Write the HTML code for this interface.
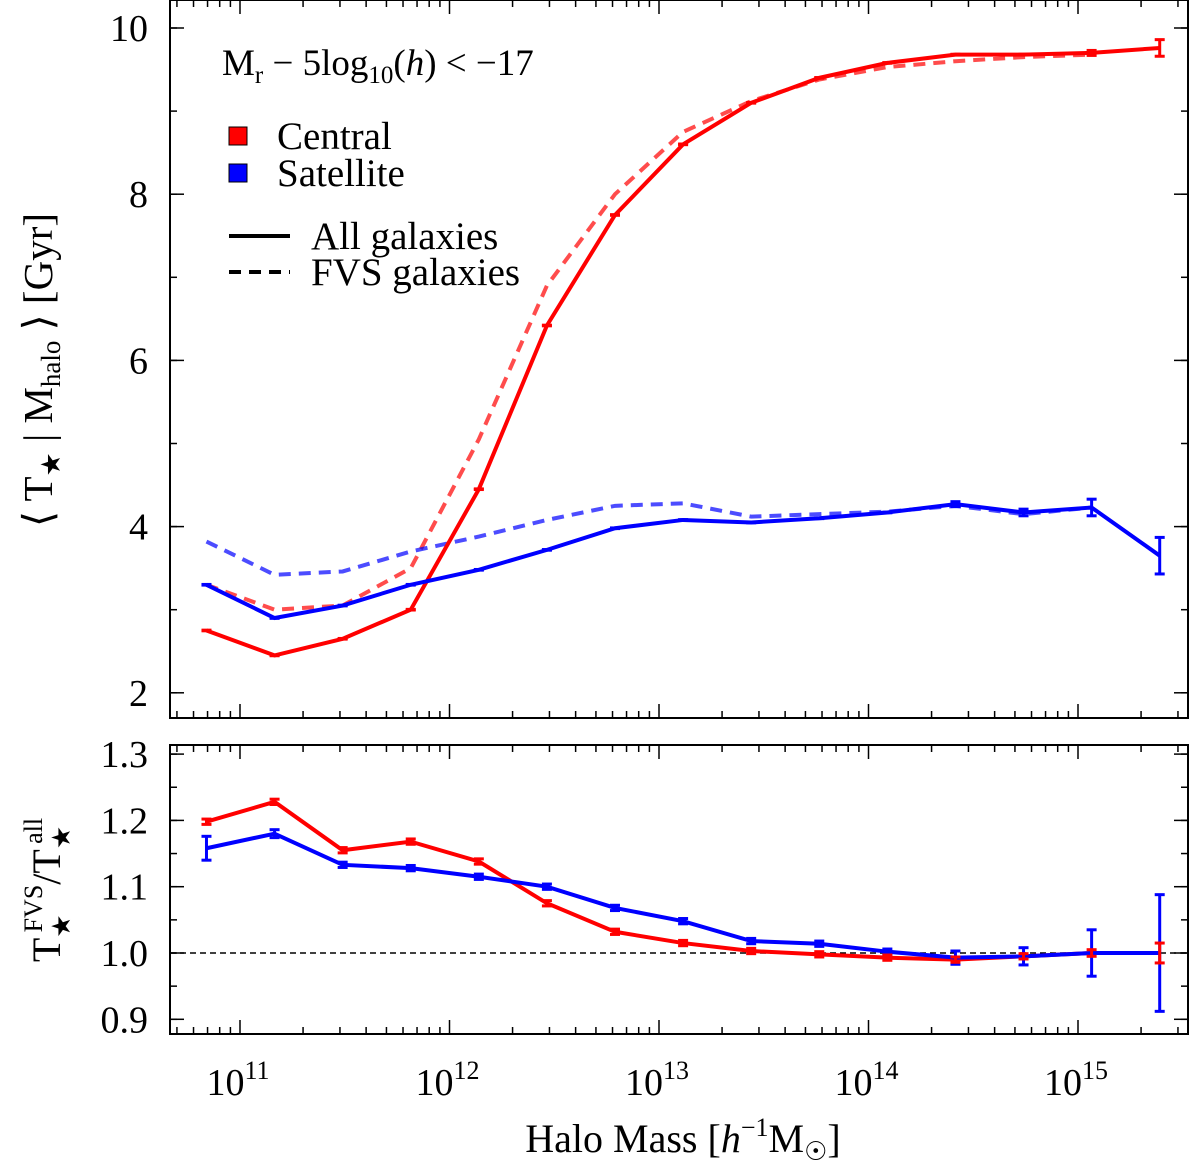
<!DOCTYPE html>
<html><head><meta charset="utf-8"><style>
body{margin:0;background:#fff}
svg{font-family:"Liberation Serif",serif}
</style></head><body>
<svg id="c" width="1200" height="1162" xmlns="http://www.w3.org/2000/svg"></svg>
<script>
const massLog=[10.84,11.165,11.49,11.815,12.14,12.465,12.79,13.115,13.44,13.765,14.09,14.415,14.74,15.065,15.39];
const cenAll=[2.75,2.45,2.65,3.0,4.45,6.42,7.75,8.6,9.1,9.4,9.58,9.68,9.68,9.7,9.76];
const cenFVS=[3.3,3.0,3.05,3.5,5.05,6.9,8.0,8.75,9.12,9.38,9.53,9.6,9.65,9.68];
const satAll=[3.3,2.9,3.05,3.3,3.48,3.72,3.98,4.08,4.05,4.1,4.17,4.27,4.17,4.23,3.65];
const satFVS=[3.82,3.42,3.46,3.7,3.88,4.08,4.25,4.28,4.12,4.15,4.18,4.25,4.15,4.23];
const ratioCen=[1.198,1.228,1.155,1.168,1.138,1.075,1.032,1.015,1.003,0.998,0.993,0.99,0.995,1.0,1.0];
const ratioSat=[1.158,1.18,1.133,1.128,1.115,1.1,1.068,1.048,1.018,1.014,1.002,0.993,0.995,1.0,1.0];
const errSatAll=[0,0,0,0,0,0,0,0,0,0,0,0.03,0.04,0.1,0.22];
const errCenAll=[0,0,0,0,0,0,0,0,0,0,0,0,0,0.03,0.1];
const errRatioSat=[0.018,0.006,0,0,0,0,0,0,0,0,0,0.01,0.013,0.035,0.088];
const errRatioCen=[0,0,0,0,0,0,0,0,0,0,0,0,0,0.005,0.015];
const topTicks=[2,4,6,8,10];
const botTicks=[0.9,1.0,1.1,1.2,1.3];
const xDecades=[11,12,13,14,15];

const svg=document.getElementById('c');const NS='http://www.w3.org/2000/svg';
function el(t,a,p){const e=document.createElementNS(NS,t);for(const k in a)e.setAttribute(k,a[k]);(p||svg).appendChild(e);return e;}
const X=v=>240+209.5*(v-11);
const YT=v=>28+(10-v)*83.1;
const YB=v=>953-(v-1.0)*663;
const L=170,R=1188,T1=0,B1=718,T2=745,B2=1034;

function frame(t,b,name){const r=el('rect',{x:L,y:t,width:R-L,height:b-t,fill:'none',stroke:'#000','stroke-width':2});

for(let d=10;d<=15;d++){for(let m=1;m<10;m++){const x=X(d+Math.log10(m));if(x<L||x>R)continue;const len=m===1?14:7;
el('line',{x1:x,x2:x,y1:b,y2:b-len,stroke:'#000','stroke-width':1.5});el('line',{x1:x,x2:x,y1:t,y2:t+len,stroke:'#000','stroke-width':1.5});}}}
frame(T1,B1,'top-panel-frame');frame(T2,B2,'bottom-panel-frame');

function yTicks(ticks,Y,minorStep,lo,hi,fmt,name){for(let v=lo;v<=hi+1e-9;v+=minorStep){const y=Y(v);el('line',{x1:L,x2:L+7,y1:y,y2:y,stroke:'#000','stroke-width':1.5});el('line',{x1:R,x2:R-7,y1:y,y2:y,stroke:'#000','stroke-width':1.5});}
ticks.forEach(v=>{const y=Y(v);el('line',{x1:L,x2:L+14,y1:y,y2:y,stroke:'#000','stroke-width':1.5});el('line',{x1:R,x2:R-14,y1:y,y2:y,stroke:'#000','stroke-width':1.5});
const t=el('text',{x:L-22,y:y+13,'text-anchor':'end','font-size':38});t.textContent=fmt(v);});}
yTicks(topTicks,YT,1,2,10,v=>String(v),'y-tick-label-top');
yTicks(botTicks,YB,0.05,0.9,1.3,v=>v.toFixed(1),'y-tick-label-bottom');

xDecades.forEach(d=>{const t=el('text',{x:X(d)-2,y:1095,'text-anchor':'middle','font-size':38});t.innerHTML='10<tspan font-size="26" dy="-16">'+d+'</tspan>';
});

const ref=el('line',{x1:L,x2:R,y1:YB(1),y2:YB(1),stroke:'#000','stroke-width':1.5,'stroke-dasharray':'6,4'});


function series(vals,Y,color,dash,op,name){const pts=vals.map((v,i)=>X(massLog[i])+','+Y(v)).join(' ');
const p=el('polyline',{points:pts,fill:'none',stroke:color,'stroke-width':4,'stroke-opacity':op,'stroke-dasharray':dash?'12,8':'none'});
}
function errs(vals,er,Y,color,name){vals.forEach((v,i)=>{const e=er[i]||0.004;const x=X(massLog[i]);
const g=el('g',{});
el('line',{x1:x,x2:x,y1:Y(v-e),y2:Y(v+e),stroke:color,'stroke-width':3},g);
el('line',{x1:x-5,x2:x+5,y1:Y(v-e),y2:Y(v-e),stroke:color,'stroke-width':3},g);
el('line',{x1:x-5,x2:x+5,y1:Y(v+e),y2:Y(v+e),stroke:color,'stroke-width':3},g);});}

series(cenFVS,YT,'#f00',true,0.7,'central-fvs-line');
series(satFVS,YT,'#00f',true,0.7,'satellite-fvs-line');
series(cenAll,YT,'#f00',false,1,'central-all-line');
series(satAll,YT,'#00f',false,1,'satellite-all-line');
errs(satAll,errSatAll,YT,'#00f','satellite-errorbar');
errs(cenAll,errCenAll,YT,'#f00','central-errorbar');
series(ratioCen,YB,'#f00',false,1,'central-ratio-line');
series(ratioSat,YB,'#00f',false,1,'satellite-ratio-line');
errs(ratioSat,errRatioSat,YB,'#00f','satellite-ratio-errorbar');
errs(ratioCen,errRatioCen,YB,'#f00','central-ratio-errorbar');
</script>
<svg width="1200" height="1162" style="position:absolute;left:0;top:0" xmlns="http://www.w3.org/2000/svg" font-family="Liberation Serif, serif">
<text x="222" y="75" font-size="37">M<tspan font-size="25" dy="8">r</tspan><tspan dy="-8"> − 5log</tspan><tspan font-size="25" dy="8">10</tspan><tspan dy="-8">(</tspan><tspan font-style="italic">h</tspan>) &lt; −17</text>
<g>
<rect x="229" y="127" width="18" height="18" fill="#f00" stroke="#000" stroke-width="1"/>
<text x="277" y="149" font-size="39">Central</text>
<rect x="229" y="164" width="18" height="18" fill="#00f" stroke="#000" stroke-width="1"/>
<text x="277" y="186" font-size="39">Satellite</text>
<line x1="229" x2="290" y1="236" y2="236" stroke="#000" stroke-width="4"/>
<text x="311" y="249" font-size="39">All galaxies</text>
<line x1="229" x2="290" y1="272" y2="272" stroke="#000" stroke-width="4" stroke-dasharray="12,8"/>
<text x="311" y="285" font-size="39">FVS galaxies</text>
</g>
<text x="0" y="0" font-size="41" transform="translate(52,370) rotate(-90)" text-anchor="middle">⟨ T<tspan font-size="27" dy="8">★</tspan><tspan dy="-8"> | M</tspan><tspan font-size="27" dy="8">halo</tspan><tspan dy="-8"> ⟩ [Gyr]</tspan></text>
<text x="0" y="0" font-size="40" transform="translate(60,890) rotate(-90)" text-anchor="middle">T<tspan font-size="26" dy="10">★</tspan><tspan font-size="26" dx="-18" dy="-28">FVS</tspan><tspan dy="18">/T</tspan><tspan font-size="26" dy="10">★</tspan><tspan font-size="26" dx="-18" dy="-28">all</tspan></text>
<text x="683" y="1152" font-size="40" text-anchor="middle">Halo Mass [<tspan font-style="italic">h</tspan><tspan font-size="26" dy="-16">−1</tspan><tspan dy="16">M</tspan><tspan font-size="26" dy="8">☉</tspan><tspan dy="-8">]</tspan></text>
</svg>
</body></html>
